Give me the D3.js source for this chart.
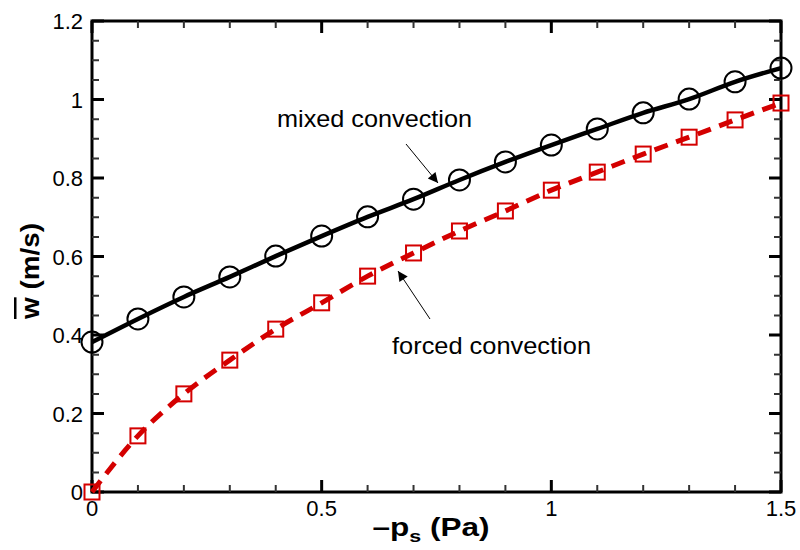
<!DOCTYPE html>
<html>
<head>
<meta charset="utf-8">
<script src="https://cdn.jsdelivr.net/npm/d3@7"></script>
<style>
  body { margin: 0; background: #fff; }
  text { font-family: "Liberation Sans", Arial, sans-serif; }
</style>
</head>
<body>
<svg id="chart" width="800" height="550"></svg>
<script>
// pressure drop values (x) and mean velocity for both cases
const pressure = [0, 0.1, 0.2, 0.3, 0.4, 0.5, 0.6, 0.7, 0.8, 0.9, 1.0, 1.1, 1.2, 1.3, 1.4, 1.5];
const mixed = [0.382, 0.441, 0.497, 0.548, 0.601, 0.652, 0.701, 0.746, 0.795, 0.841, 0.884, 0.925, 0.966, 1.001, 1.045, 1.080];
const forced = [0, 0.143, 0.250, 0.336, 0.415, 0.482, 0.550, 0.609, 0.665, 0.716, 0.769, 0.815, 0.861, 0.904, 0.948, 0.991];
const xTicks = [0, 0.5, 1, 1.5];
const yTicks = [0, 0.2, 0.4, 0.6, 0.8, 1, 1.2];
const xLabels = ["0", "0.5", "1", "1.5"];
const yLabels = ["0", "0.2", "0.4", "0.6", "0.8", "1", "1.2"];

const red = "#d40000";
const plotL = 92, plotR = 781, plotT = 21, plotB = 492;

const svg = d3.select("#chart");
const x = d3.scaleLinear([0, 1.5], [plotL, plotR]);
const y = d3.scaleLinear([0, 1.2], [plotB, plotT]);

const xMinor = d3.range(0, 16).map(i => i / 10).filter(v => !xTicks.includes(v));
const yMinor = d3.range(0, 25).map(i => i / 20).filter(v => !yTicks.some(t => Math.abs(t - v) < 1e-9));

// frame
svg.append("rect")
    .attr("x", plotL).attr("y", plotT)
    .attr("width", plotR - plotL).attr("height", plotB - plotT)
    .attr("fill", "none").attr("stroke", "#000").attr("stroke-width", 3);

// inward ticks on all four sides, built as one path per set
function tickPath(vals, len, width, color) {
    const p = d3.path();
    vals.forEach(v => {
        if (v.axis === "x") {
            p.moveTo(x(v.val), plotB); p.lineTo(x(v.val), plotB - len);
            p.moveTo(x(v.val), plotT); p.lineTo(x(v.val), plotT + len);
        } else {
            p.moveTo(plotL, y(v.val)); p.lineTo(plotL + len, y(v.val));
            p.moveTo(plotR, y(v.val)); p.lineTo(plotR - len, y(v.val));
        }
    });
    svg.append("path")
        .attr("d", p.toString())
        .attr("fill", "none")
        .attr("stroke", color)
        .attr("stroke-width", width);
}
const tag = (vals, axis) => vals.map(val => ({ axis, val }));
tickPath(tag(xMinor, "x").concat(tag(yMinor, "y")), 7, 2, "#333");
tickPath(tag(xTicks, "x").concat(tag(yTicks, "y")), 12, 3, "#000");

// tick labels
svg.append("g").selectAll("text")
    .data(xTicks)
    .join("text")
    .attr("x", d => x(d))
    .attr("y", plotB + 24)
    .attr("text-anchor", "middle")
    .attr("font-size", 22)
    .text((d, i) => xLabels[i]);

svg.append("g").selectAll("text")
    .data(yTicks)
    .join("text")
    .attr("x", plotL - 9)
    .attr("y", d => y(d) + 8)
    .attr("text-anchor", "end")
    .attr("font-size", 22)
    .text((d, i) => yLabels[i]);

const mixedPts = pressure.map((p, i) => [p, mixed[i]]);
const forcedPts = pressure.map((p, i) => [p, forced[i]]);
const line = d3.line().x(d => x(d[0])).y(d => y(d[1])).curve(d3.curveMonotoneX);

svg.append("path")
    .datum(forcedPts)
    .attr("d", line)
    .attr("fill", "none")
    .attr("stroke", red)
    .attr("stroke-width", 5)
    .attr("stroke-dasharray", "14,9");

svg.append("g").selectAll("rect")
    .data(forcedPts)
    .join("rect")
    .attr("x", d => x(d[0]) - 7.5)
    .attr("y", d => y(d[1]) - 7.5)
    .attr("width", 15)
    .attr("height", 15)
    .attr("fill", "none")
    .attr("stroke", red)
    .attr("stroke-width", 2);

svg.append("path")
    .datum(mixedPts)
    .attr("d", line)
    .attr("fill", "none")
    .attr("stroke", "#000")
    .attr("stroke-width", 4.5);

svg.append("g").selectAll("circle")
    .data(mixedPts)
    .join("circle")
    .attr("cx", d => x(d[0]))
    .attr("cy", d => y(d[1]))
    .attr("r", 10.5)
    .attr("fill", "none")
    .attr("stroke", "#000")
    .attr("stroke-width", 2);

// annotations with arrows
svg.append("defs").append("marker")
    .attr("id", "head")
    .attr("viewBox", "0 0 10 10")
    .attr("refX", 10).attr("refY", 5)
    .attr("markerWidth", 16).attr("markerHeight", 10)
    .attr("markerUnits", "userSpaceOnUse")
    .attr("orient", "auto")
    .append("path")
    .attr("d", "M0,0L10,5L0,10z")
    .attr("fill", "#000");

svg.append("line")
    .attr("x1", 406).attr("y1", 144)
    .attr("x2", 438).attr("y2", 183)
    .attr("stroke", "#000").attr("stroke-width", 1)
    .attr("marker-end", "url(#head)");

svg.append("line")
    .attr("x1", 430).attr("y1", 319)
    .attr("x2", 398).attr("y2", 271)
    .attr("stroke", "#000").attr("stroke-width", 1)
    .attr("marker-end", "url(#head)");

svg.append("text")
    .attr("x", 374.5).attr("y", 127)
    .attr("text-anchor", "middle")
    .attr("font-size", 24)
    .attr("textLength", 195)
    .attr("lengthAdjust", "spacingAndGlyphs")
    .text("mixed convection");

svg.append("text")
    .attr("x", 491.5).attr("y", 354)
    .attr("text-anchor", "middle")
    .attr("font-size", 24)
    .attr("textLength", 199)
    .attr("lengthAdjust", "spacingAndGlyphs")
    .text("forced convection");

// axis titles
const xt = svg.append("text")
    .attr("x", 431).attr("y", 536)
    .attr("text-anchor", "middle")
    .attr("font-size", 25)
    .attr("font-weight", "bold")
    .attr("textLength", 117)
    .attr("lengthAdjust", "spacingAndGlyphs");
xt.append("tspan").text("\u2013p");
xt.append("tspan").attr("font-size", 17).attr("dy", 6).text("s");
xt.append("tspan").attr("dy", -6).text(" (Pa)");

const yt = svg.append("text")
    .attr("transform", "translate(39,271) rotate(-90)")
    .attr("text-anchor", "middle")
    .attr("font-size", 25)
    .attr("font-weight", "bold")
    .attr("textLength", 96)
    .attr("lengthAdjust", "spacingAndGlyphs");
yt.append("tspan").style("text-decoration", "overline").text("w");
yt.append("tspan").text(" (m/s)");
</script>
</body>
</html>
